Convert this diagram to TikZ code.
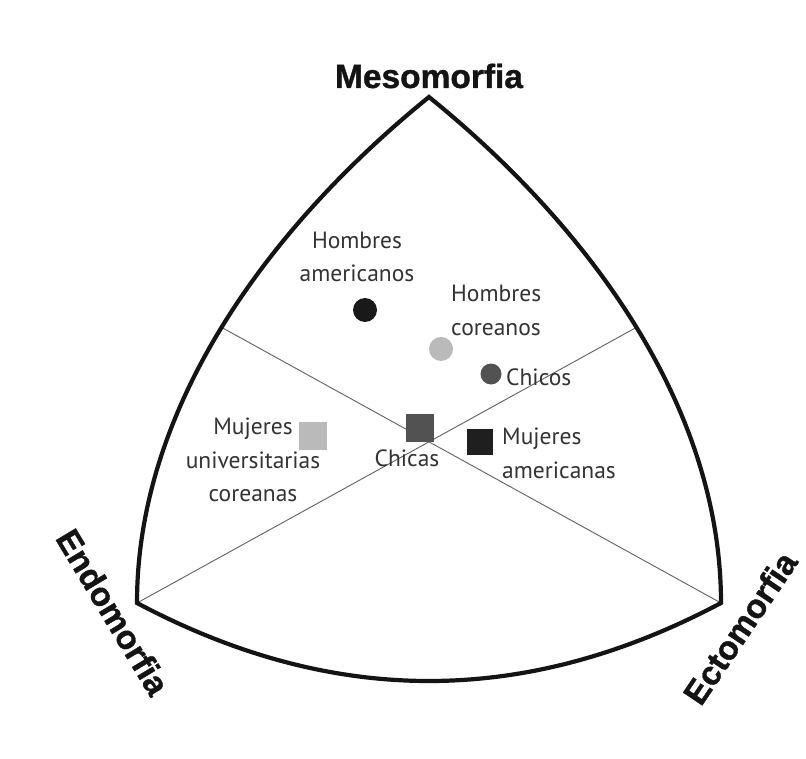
\documentclass[tikz,border=0pt]{standalone}
\usepackage{fontspec}
\setmainfont{PT Sans}
\newfontfamily\axisfont[FakeBold=1.1]{Liberation Sans Bold}
\begin{document}
\begin{tikzpicture}[x=1pt,y=-1pt,
  outline/.style={line width=4.2pt, line join=miter, black!92},
  divider/.style={line width=0.9pt, black!62},
  lbl/.style={font=\fontsize{23.5}{33.5}\selectfont, text=black!80, inner sep=0pt},
  axislbl/.style={font=\axisfont\fontsize{33.5}{40}\selectfont, text=black!92, inner sep=0pt},
  dot/.style={circle, inner sep=0pt, minimum size=#1},
  sq/.style={rectangle, inner sep=0pt, minimum size=#1},
]
\useasboundingbox (0,0) rectangle (806,759);
\fill[white] (0,0) rectangle (806,759);

% vertices
\coordinate (T) at (429,97);
\coordinate (L) at (137,603);
\coordinate (R) at (721,603);

% points on the side arcs
\path (T) .. controls (273.6,222.8) and (137,403) .. (L) coordinate[pos=0.51] (lm);
\path (T) .. controls (584.4,222.8) and (721,403) .. (R) coordinate[pos=0.51] (rm);

% dividers
\draw[divider] (lm) -- (R);
\draw[divider] (rm) -- (L);

% outline
\draw[outline] (T) .. controls (273.6,222.8) and (137,403) .. (L)
  .. controls (333,707) and (525,707) .. (R)
  .. controls (721,403) and (584.4,222.8) .. (T) -- cycle;

% markers
\node[dot=24, fill=black!90] (ha) at (365,310) {};
\node[dot=24, fill=black!27] (hc) at (441,349) {};
\node[dot=21, fill=black!68] (cho) at (491,374) {};
\node[sq=27.5, fill=black!68] (cha) at (420,428) {};
\node[sq=26.5, fill=black!88] (ma) at (480,442) {};
\node[sq=28, fill=black!27] (muc) at (313,436) {};

% labels
\node[lbl, align=center] (tha) at (357,257) {Hombres\\americanos};
\node[lbl, align=left, anchor=west] (thc) at (451,310.5) {Hombres\\coreanos};
\node[lbl, anchor=west] (tcho) at (506,377) {Chicos};
\node[lbl] (tcha) at (407,458) {Chicas};
\node[lbl, align=left, anchor=west] (tma) at (502,453.5) {Mujeres\\americanas};
\node[lbl, align=center] (tmuc) at (253,460) {Mujeres\\universitarias\\coreanas};

% axis labels
\node[axislbl] (meso) at (429,76) {Mesomorfia};
\node[axislbl, rotate=-59] (endo) at (113,612) {Endomorfia};
\node[axislbl, rotate=56] (ecto) at (740,628) {Ectomorfia};
\end{tikzpicture}
\end{document}
